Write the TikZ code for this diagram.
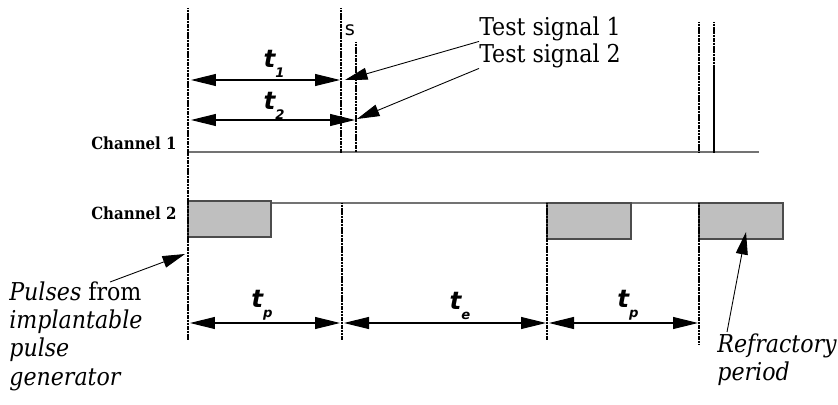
\documentclass[tikz,border=0pt]{standalone}
\usepackage{fontspec}
\setmainfont{DejaVu Serif Condensed}
\setsansfont{DejaVu Sans}
\usetikzlibrary{arrows.meta}
\newcommand{\tlab}[1]{{\sffamily\bfseries\itshape\fontsize{14}{16}\selectfont t}\raisebox{-0.9ex}{\sffamily\bfseries\itshape\fontsize{7.5}{8}\selectfont #1}}
\tikzset{
  tick/.style={line width=0.8pt, dash pattern=on 0.7pt off 0.2pt},
  chan/.style={draw=black!55, line width=1pt},
  pulsebox/.style={fill=black!25, draw=black!70, line width=0.6pt},
  dim/.style={{Triangle[length=0.5cm,width=0.24cm]}-{Triangle[length=0.5cm,width=0.24cm]}, line width=0.6pt},
  pointer/.style={-{Triangle[length=0.45cm,width=0.24cm]}, line width=0.5pt}
}
\begin{document}
\begin{tikzpicture}[x=0.02cm,y=-0.02cm,every node/.style={inner sep=0pt,font=\fontsize{12}{14}\selectfont}]
    \useasboundingbox (0,0) rectangle (838,405);
    % channel lines
    \draw[chan] (188,152) -- (759,152);
    \draw[chan] (188,203) -- (759,203);
    \node[anchor=east,font=\fontsize{9.5}{10}\selectfont\bfseries] (ch1) at (177,143) {Channel 1};
    \node[anchor=east,font=\fontsize{9.5}{10}\selectfont\bfseries] (ch2) at (177,213) {Channel 2};
    % pulses on channel 2
    \draw[pulsebox] (188,201) rectangle (271,237);
    \draw[pulsebox] (547,203) rectangle (631,239);
    \draw[pulsebox] (699,203) rectangle (783,239);
    % markers
    \draw[tick] (188,8) -- (188,340);
    \draw[tick] (341,8) -- (341,152);
    \draw[tick] (356,42) -- (356,152);
    \draw[tick] (342,203) -- (342,340);
    \draw[tick] (547,203) -- (547,340);
    \draw[tick] (699,203) -- (699,344);
    \draw[tick] (699,22) -- (699,152);
    \draw[tick] (714,22) -- (714,152);
    \draw[line width=1.3pt] (714,65) -- (714,152);
    \node[font=\sffamily\fontsize{11}{12}\selectfont] (s) at (350,30) {s};
    % time intervals
    \coordinate (a1) at (191,80);
    \coordinate (b1) at (340,80);
    \coordinate (a2) at (191,120);
    \coordinate (b2) at (355,120);
    \draw[dim] (a1) -- (b1);
    \draw[dim] (a2) -- (b2);
    \node (t1) at (274,64) {\tlab{1}};
    \node (t2) at (274,106) {\tlab{2}};
    \coordinate (p1) at (190,323);
    \coordinate (p2) at (340,323);
    \coordinate (p3) at (344,323);
    \coordinate (p4) at (546,323);
    \coordinate (p5) at (549,323);
    \coordinate (p6) at (698,323);
    \draw[dim] (p1) -- (p2);
    \draw[dim] (p3) -- (p4);
    \draw[dim] (p5) -- (p6);
    \node (tp1) at (262,305) {\tlab{p}};
    \node (te) at (460,306) {\tlab{e}};
    \node (tp2) at (628,305) {\tlab{p}};
    % test signals
    \node[anchor=west,font=\fontsize{14}{16}\selectfont] (ts1) at (479,29) {Test signal 1};
    \node[anchor=west,font=\fontsize{14}{16}\selectfont] (ts2) at (479,56) {Test signal 2};
    \coordinate (hit1) at (345,80);
    \coordinate (hit2) at (357,119);
    \draw[pointer] (ts1.south west) -- (hit1);
    \draw[pointer] (ts2.south west) -- (hit2);
    % annotations
    \node[anchor=north west,align=left,font=\fontsize{14}{16.2}\selectfont] (ipg) at (9,281)
      {\textit{Pulses} from\\\textit{implantable}\\\textit{pulse}\\\textit{generator}};
    \coordinate (ipgtail) at (110,282);
    \coordinate (ipgtip) at (185,254);
    \draw[pointer] (ipgtail) -- (ipgtip);
    \node[anchor=north west,align=left,font=\fontsize{14}{16}\selectfont\itshape] (rp) at (717,333)
      {Refractory\\period};
    \coordinate (rptail) at (727,332);
    \coordinate (rptip) at (746,232);
    \draw[pointer] (rptail) -- (rptip);
\end{tikzpicture}
\end{document}
